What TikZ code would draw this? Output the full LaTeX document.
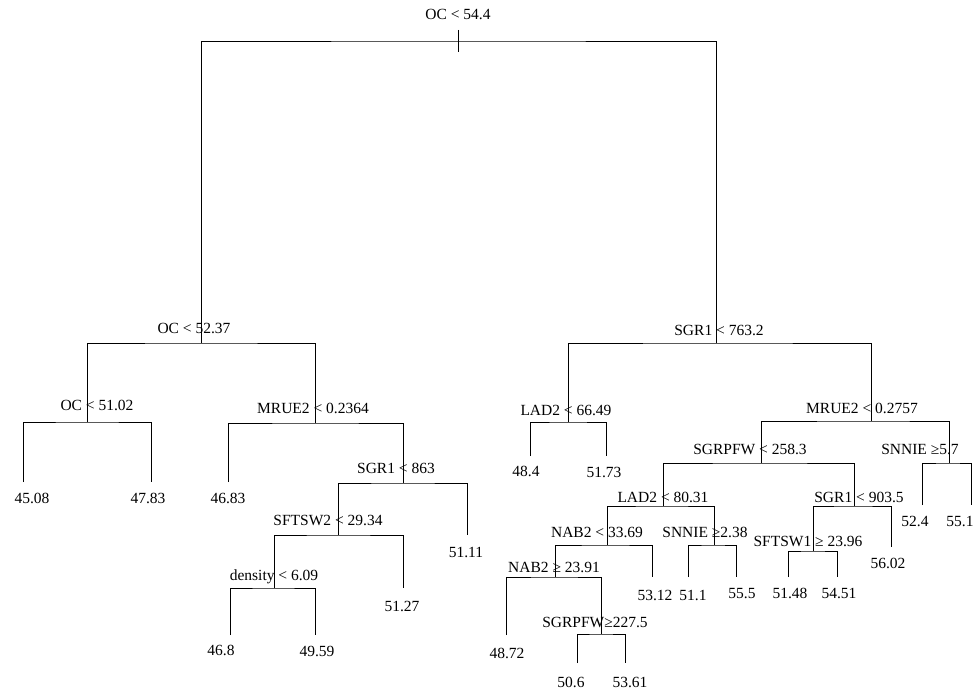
\documentclass[tikz,border=0pt]{standalone}
\usepackage{fontspec}
\setmainfont{Liberation Serif}
\begin{document}
\begin{tikzpicture}[x=1pt,y=-1pt,
  lab/.style={font=\fontsize{15.5}{18}\selectfont, inner sep=0pt, anchor=center},
  br/.style={draw=black, line width=0.9pt}]
\fill[white] (0,0) rectangle (979,695);
\useasboundingbox (0,0) rectangle (979,695);
% split points
\coordinate (root) at (458,41);
\coordinate (rtT) at (458,30);
\coordinate (rtB) at (458,52);
\coordinate (n2) at (201,343);
\coordinate (n3) at (716,343);
\coordinate (n4) at (87,422);
\coordinate (n5) at (315,423);
\coordinate (n6) at (403,483);
\coordinate (n7) at (338,535);
\coordinate (n8) at (274,588);
\coordinate (n9) at (568,422);
\coordinate (n10) at (871,421);
\coordinate (n11) at (761,463);
\coordinate (n12) at (949,463);
\coordinate (n13) at (663,506);
\coordinate (n14) at (854,506);
\coordinate (n15) at (607,545);
\coordinate (n16) at (714,545);
\coordinate (n17) at (555,577);
\coordinate (n18) at (601,634);
\coordinate (n19) at (813,551);
% leaf ends
\coordinate (a1) at (23,482);
\coordinate (a2) at (151,482);
\coordinate (a3) at (228,482);
\coordinate (a4) at (467,535);
\coordinate (a5) at (403,588);
\coordinate (a6) at (230,635);
\coordinate (a7) at (315,635);
\coordinate (a8) at (530,456);
\coordinate (a9) at (606,456);
\coordinate (a10) at (922,505);
\coordinate (a11) at (971,505);
\coordinate (a12) at (652,577);
\coordinate (a13) at (688,577);
\coordinate (a14) at (736,577);
\coordinate (a15) at (506,635);
\coordinate (a16) at (577,663);
\coordinate (a17) at (625,663);
\coordinate (a18) at (891,547);
\coordinate (a19) at (788,577);
\coordinate (a20) at (837,577);
% branches
\draw[br] (rtT) -- (rtB);
\draw[br] (n2) |- (root) -| (n3);
\draw[br] (n4) |- (n2) -| (n5);
\draw[br] (a1) |- (n4) -| (a2);
\draw[br] (a3) |- (n5) -| (n6);
\draw[br] (n7) |- (n6) -| (a4);
\draw[br] (n8) |- (n7) -| (a5);
\draw[br] (a6) |- (n8) -| (a7);
\draw[br] (n9) |- (n3) -| (n10);
\draw[br] (a8) |- (n9) -| (a9);
\draw[br] (n11) |- (n10) -| (n12);
\draw[br] (a10) |- (n12) -| (a11);
\draw[br] (n13) |- (n11) -| (n14);
\draw[br] (n15) |- (n13) -| (n16);
\draw[br] (n17) |- (n15) -| (a12);
\draw[br] (a13) |- (n16) -| (a14);
\draw[br] (a15) |- (n17) -| (n18);
\draw[br] (a16) |- (n18) -| (a17);
\draw[br] (n19) |- (n14) -| (a18);
\draw[br] (a19) |- (n19) -| (a20);
% split labels
\node[lab] (t1) at (458,14) {OC < 54.4};
\node[lab] (t2) at (194,328) {OC < 52.37};
\node[lab] (t4) at (97,405) {OC < 51.02};
\node[lab] (t5) at (313,408) {MRUE2 < 0.2364};
\node[lab] (t6) at (396,468) {SGR1 < 863};
\node[lab] (t7) at (328,520) {SFTSW2 < 29.34};
\node[lab] (t8) at (274,577) {density < 6.09};
\node[lab] (t3) at (719,330) {SGR1 < 763.2};
\node[lab] (t9) at (566,410) {LAD2 < 66.49};
\node[lab] (t10) at (862,408) {MRUE2 < 0.2757};
\node[lab] (t11) at (750,449) {SGRPFW < 258.3};
\node[lab] (t12) at (920,449) {SNNIE ≥5.7};
\node[lab] (t13) at (663,497) {LAD2 < 80.31};
\node[lab] (t15) at (597,532) {NAB2 < 33.69};
\node[lab] (t16) at (705,532) {SNNIE ≥2.38};
\node[lab] (t17) at (554,567) {NAB2 ≥ 23.91};
\node[lab] (t18) at (595,622) {SGRPFW≥227.5};
\node[lab] (t14) at (859,497) {SGR1 < 903.5};
\node[lab] (t19) at (808,541) {SFTSW1 ≥ 23.96};
% leaf labels
\node[lab] (v1) at (32,498) {45.08};
\node[lab] (v2) at (148,498) {47.83};
\node[lab] (v3) at (228,498) {46.83};
\node[lab] (v4) at (466,552) {51.11};
\node[lab] (v5) at (402,606) {51.27};
\node[lab] (v6) at (221,650) {46.8};
\node[lab] (v7) at (317,651) {49.59};
\node[lab] (v8) at (526,471) {48.4};
\node[lab] (v9) at (604,472) {51.73};
\node[lab] (v10) at (915,521) {52.4};
\node[lab] (v11) at (960,521) {55.1};
\node[lab] (v12) at (655,595) {53.12};
\node[lab] (v13) at (693,595) {51.1};
\node[lab] (v14) at (742,594) {55.5};
\node[lab] (v15) at (507,653) {48.72};
\node[lab] (v16) at (571,682) {50.6};
\node[lab] (v17) at (630,682) {53.61};
\node[lab] (v18) at (888,563) {56.02};
\node[lab] (v19) at (790,593) {51.48};
\node[lab] (v20) at (839,593) {54.51};
\end{tikzpicture}
\end{document}
